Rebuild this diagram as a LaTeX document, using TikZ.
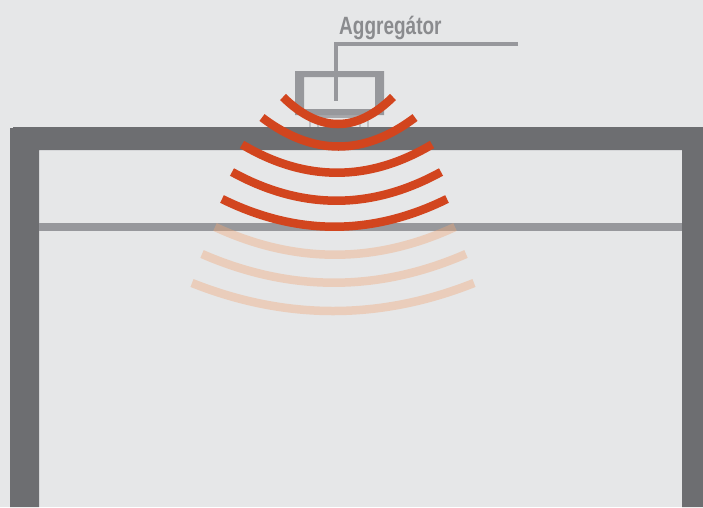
\documentclass[tikz,border=0pt]{standalone}
\usepackage{fontspec}
\newfontfamily\labelfont[FakeStretch=0.76]{Liberation Sans Bold}
\definecolor{bgc}{HTML}{E6E7E8}
\definecolor{wallc}{HTML}{6D6E71}
\definecolor{barc}{HTML}{97989C}
\definecolor{redc}{HTML}{D2451E}
\definecolor{fadec}{HTML}{F0A878}
\definecolor{textc}{HTML}{8A8B8E}
\tikzset{
  wave/.style={draw=redc,line width=8.5pt},
  fadewave/.style={draw=fadec,draw opacity=.4,line width=8.5pt},
  leader/.style={draw=barc,line width=3.2pt},
  foot/.style={draw=barc!60,line width=1.6pt}
}
\newcommand{\arcwave}[5]{% style, left x, right x, end y, mid y
  \draw[#1] (#2,#4) .. controls ({#2+(#3-#2)/3},{#4+(#5-#4)*4/3}) and ({#3-(#3-#2)/3},{#4+(#5-#4)*4/3}) .. (#3,#4);}
\begin{document}
\begin{tikzpicture}[x=1pt,y=-1pt]
\useasboundingbox (0,0) rectangle (703,507);
\fill[bgc] (0,0) rectangle (703,507);
% walls
\fill[wallc] (10,507) -- (10,128) -- (13,128) -- (13,127) -- (703,127) -- (703,507) -- (682,507) -- (682,150) -- (39,150) -- (39,507) -- cycle;
% beam
\fill[barc] (39,223) rectangle (682,231);
% device
\foreach \x in {310,318,360,368} \draw[foot] (\x,116) -- (\x,127);
\fill[barc!85] (307,115) rectangle (372,118);
\fill[barc,even odd rule] (295,71) rectangle (384,115) (304,77) rectangle (375,109);
% leader and label
\node[text=textc,anchor=base west,inner sep=0pt,font=\labelfont\fontsize{25}{25}\selectfont] (label) at (339,34) {Aggregátor};
\coordinate (lineend) at (518,44);
\coordinate (linefoot) at (336,101);
\draw[leader] (lineend) -- (linefoot |- lineend) -- (linefoot);
% faded waves
\arcwave{fadewave}{215}{455}{227}{254.7}
\arcwave{fadewave}{202}{466}{254}{282.7}
\arcwave{fadewave}{192}{474}{283}{311}
% red waves
\arcwave{wave}{222}{447}{199}{226.7}
\arcwave{wave}{232}{441}{172}{200.7}
\arcwave{wave}{242}{432}{144.5}{172.7}
\arcwave{wave}{262}{415}{117.5}{146.5}
\arcwave{wave}{283}{393}{97}{124}
\end{tikzpicture}
\end{document}
